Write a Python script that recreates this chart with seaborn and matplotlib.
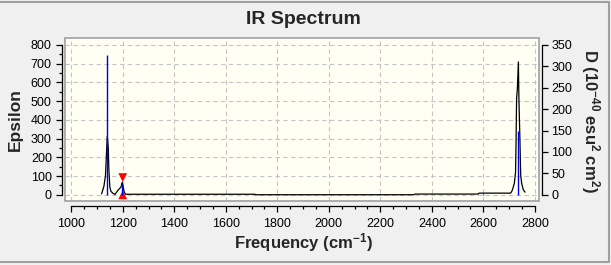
import matplotlib
matplotlib.use("Agg")
import numpy as np
import pandas as pd
import matplotlib.pyplot as plt
import seaborn as sns
from matplotlib.ticker import FixedLocator
from matplotlib.lines import Line2D
from matplotlib.patches import Rectangle

# ---------------- data ----------------
freq = [1118, 1127, 1133, 1137, 1140, 1144, 1146, 1150, 1154, 1161, 1170, 1176,
        1183, 1193, 1198, 1202, 1206, 1211, 1713, 1716, 2331, 2334, 2580, 2583,
        2706, 2712, 2720, 2725, 2727, 2729, 2732, 2736, 2738, 2742, 2745, 2749,
        2755, 2762]
epsilon = [5, 46, 103, 228, 312, 246, 139, 41, 19, 9, 2, 14,
           27, 41, 67, 41, 14, 3, 3, 0.5, 0.5, 4, 4, 9,
           9, 23, 59, 121, 290, 513, 567, 709, 513, 290, 103, 59,
           27, 14]
stick_freq = [1140, 1198, 2597, 2736]
stick_d = [326, 25, 2, 150]
marker_freq = [1200]
marker_top = [92]
marker_bottom = [0]
x_ticks = [1000, 1200, 1400, 1600, 1800, 2000, 2200, 2400, 2600, 2800]
eps_ticks = [0, 100, 200, 300, 400, 500, 600, 700, 800]
d_ticks = [0, 50, 100, 150, 200, 250, 300, 350]

title = "IR Spectrum"
xlabel = r"Frequency (cm$^{-1}$)"
ylabel_left = "Epsilon"
ylabel_right = r"D (10$^{-40}$ esu$^{2}$ cm$^{2}$)"

# ---------------- style ----------------
sns.set_theme(style="ticks")
plt.rcParams["font.family"] = ["Liberation Sans", "DejaVu Sans"]
plt.rcParams["mathtext.fontset"] = "custom"
plt.rcParams["mathtext.rm"] = "Liberation Sans:bold"
plt.rcParams["mathtext.it"] = "Liberation Sans:bold"
plt.rcParams["mathtext.bf"] = "Liberation Sans:bold"
plt.rcParams["mathtext.default"] = "rm"

W, H = 611, 265
fig = plt.figure(figsize=(W / 100, H / 100), dpi=100, facecolor="#F0F0F0")
left, right, top, bottom = 65.3, 539.0, 38.3, 201.0
ax = fig.add_axes([left / W, 1 - bottom / H, (right - left) / W, (bottom - top) / H])
ax.set_facecolor("#FFFFF4")

eps_lo, eps_hi = -33, 835
ax.set_xlim(977, 2816)
ax.set_ylim(eps_lo, eps_hi)

df = pd.DataFrame({"freq": freq, "epsilon": epsilon})
ax.grid(True, which="major", linestyle=(0, (4, 3)), color="#C4C4C4", lw=0.8)
ax.set_axisbelow(True)

sns.lineplot(data=df, x="freq", y="epsilon", ax=ax, color="black", lw=0.9,
             sort=False, estimator=None, zorder=3)

# red selection markers
mk = pd.DataFrame({"f": marker_freq * 2, "v": marker_top + marker_bottom,
                   "kind": ["top"] * len(marker_top) + ["bottom"] * len(marker_bottom)})
sns.scatterplot(data=mk, x="f", y="v", style="kind", markers={"top": "v", "bottom": "^"},
                color="#FF0000", s=40, linewidth=0, ax=ax, legend=False, zorder=5)

# axes decoration
ax.set_xlabel("")
ax.set_ylabel("")
for s in ["top", "right"]:
    ax.spines[s].set_visible(False)
ax.spines["left"].set_position(("outward", 2.4))
ax.spines["left"].set_bounds(0, 800)
ax.spines["bottom"].set_position(("outward", 3.6))
ax.spines["bottom"].set_bounds(1000, 2800)
for s in ["left", "bottom"]:
    ax.spines[s].set_color("black")
    ax.spines[s].set_linewidth(0.9)
ax.xaxis.set_major_locator(FixedLocator(x_ticks))
ax.yaxis.set_major_locator(FixedLocator(eps_ticks))
ax.xaxis.set_minor_locator(FixedLocator([v for v in range(1000, 2801, 50) if v % 200]))
ax.yaxis.set_minor_locator(FixedLocator([v for v in range(0, 801, 50) if v % 100]))
ax.tick_params(axis="both", which="major", length=4.3, width=0.9, direction="out",
               pad=3, labelsize=9, colors="black", left=True, bottom=True)
ax.tick_params(axis="both", which="minor", length=2.3, width=0.9, direction="out",
               left=True, bottom=True, colors="black")
ax.tick_params(axis="x", which="major", pad=4)
ax.set_xticklabels([str(t) for t in x_ticks])
ax.set_yticklabels([str(t) for t in eps_ticks])

# frame box
ax.add_patch(Rectangle((0, 0), 1, 1, transform=ax.transAxes, fill=False,
                       edgecolor="#A0A0A0", lw=1.2, clip_on=False, zorder=10))

# right axis (D)
ax2 = ax.twinx()
ax2.set_ylim(eps_lo * 350 / 800, eps_hi * 350 / 800)
ax2.patch.set_visible(False)
ax2.vlines(stick_freq, 0, stick_d, color="#0000E6", lw=1.0, zorder=2)
for s in ["top", "left", "bottom"]:
    ax2.spines[s].set_visible(False)
ax2.spines["right"].set_position(("outward", 2.4))
ax2.spines["right"].set_bounds(0, 350)
ax2.spines["right"].set_color("black")
ax2.spines["right"].set_linewidth(0.9)
ax2.yaxis.set_major_locator(FixedLocator(d_ticks))
ax2.set_yticklabels([str(t) for t in d_ticks])
ax2.tick_params(axis="y", which="major", length=4.3, width=0.9, direction="out",
                pad=2, labelsize=9, colors="black", right=True)
ax2.set_ylabel("")

# texts
fig.text(303 / W, 1 - 19 / H, title, ha="center", va="center", fontsize=14, fontweight="bold")
fig.text(303 / W, 1 - 243 / H, xlabel, ha="center", va="center", fontsize=12, fontweight="bold")
fig.text(15 / W, 1 - 120 / H, ylabel_left, ha="center", va="center", fontsize=12.5,
         fontweight="bold", rotation=90)
fig.text(590 / W, 1 - 121 / H, ylabel_right, ha="center", va="center", fontsize=12,
         fontweight="bold", rotation=270)

# window border
bc = "#A0A0A0"
fig.add_artist(Line2D([0, 609 / W], [1 - 1.5 / H] * 2, transform=fig.transFigure, color=bc, lw=1.5))
fig.add_artist(Line2D([609 / W] * 2, [1 - 1.5 / H, 1 - 262 / H], transform=fig.transFigure, color=bc, lw=1.5))
fig.add_artist(Line2D([0, 609 / W], [1 - 262 / H] * 2, transform=fig.transFigure, color=bc, lw=1.5))

fig.savefig("out.png", dpi=100, facecolor=fig.get_facecolor())
